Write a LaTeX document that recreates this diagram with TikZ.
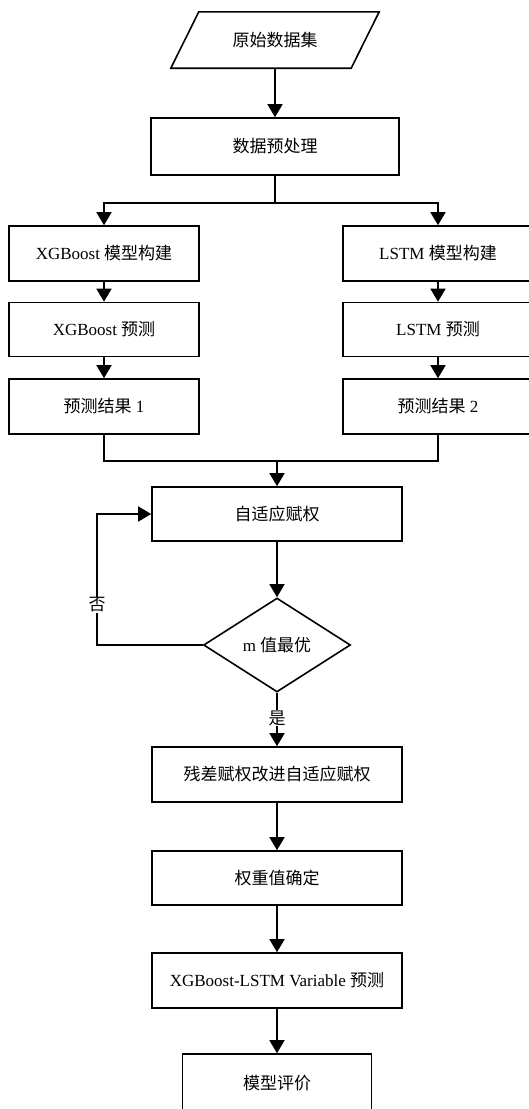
\documentclass[tikz,border=0pt]{standalone}
\usepackage{fontspec}
\setmainfont{Liberation Serif}
\newfontfamily\cjk{Noto Sans CJK SC}
\usetikzlibrary{shapes.geometric,arrows.meta,calc}
\tikzset{
  txt/.style={font=\fontsize{17}{20}\selectfont},
  box/.style={txt,draw,line width=1.6pt,rectangle,inner sep=0pt,minimum height=55pt},
  wbox/.style={box,minimum width=250pt},
  sbox/.style={box,minimum width=190pt},
  cond/.style={txt,draw,line width=1.6pt,diamond,inner sep=0pt,minimum width=147pt,minimum height=94pt},
  line/.style={line width=1.6pt},
  arr/.style={line,-{Triangle[width=15pt,length=13pt]}},
  lbl/.style={txt,fill=white,inner sep=1pt}
}
\begin{document}
\begin{tikzpicture}[x=1pt,y=-1pt]
\useasboundingbox (0,0) rectangle (529,1109);
% parallelogram input
\node[txt,inner sep=0pt,minimum width=208pt,minimum height=56pt] (raw) at (275,40) {\cjk 原始数据集};
\draw[line,line join=miter] ([xshift=28pt]raw.north west) -- (raw.north east) -- ([xshift=-28pt]raw.south east) -- (raw.south west) -- cycle;
\node[box,minimum width=248pt,minimum height=57pt] (pre) at (275,146.5) {\cjk 数据预处理};
% branches
\node[sbox] (xb1) at (104,253.5) {XGBoost {\cjk 模型构建}};
\node[sbox,minimum height=54pt] (xb2) at (104,329.5) {XGBoost {\cjk 预测}};
\node[sbox] (xb3) at (104,406.5) {{\cjk 预测结果} 1};
\node[sbox] (ls1) at (438,253.5) {LSTM {\cjk 模型构建}};
\node[sbox,minimum height=54pt] (ls2) at (438,329.5) {LSTM {\cjk 预测}};
\node[sbox] (ls3) at (438,406.5) {{\cjk 预测结果} 2};
% main chain
\node[wbox,minimum height=54pt] (ada) at (277,514) {\cjk 自适应赋权};
\node[cond] (dia) at (277,645) {m {\cjk 值最优}};
\node[wbox] (res) at (277,774.5) {\cjk 残差赋权改进自适应赋权};
\node[wbox,minimum height=54pt] (wgt) at (277,878) {\cjk 权重值确定};
\node[wbox] (prd) at (277,980.5) {XGBoost-LSTM Variable {\cjk 预测}};
\node[box,minimum width=189pt,minimum height=60pt] (ev) at (277,1084) {};
\node[txt] (evt) at (277,1083) {\cjk 模型评价};
% connectors
\coordinate (split) at (275,203);
\coordinate (merge) at (277,461);
\coordinate (loop) at (97,514);
\draw[arr] (raw.south) -- (pre.north);
\draw[line] (pre.south) -- (split);
\draw[arr] (split) -| (xb1.north);
\draw[arr] (split) -| (ls1.north);
\draw[arr] (xb1) -- (xb2);
\draw[arr] (xb2) -- (xb3);
\draw[arr] (ls1) -- (ls2);
\draw[arr] (ls2) -- (ls3);
\draw[line] (xb3.south) |- (merge);
\draw[line] (ls3.south) |- (merge);
\draw[arr] (merge) -- (ada.north);
\draw[arr] (ada.south) -- (dia.north);
\draw[arr] (dia.west) -| (loop) -- (ada.west);
\node[lbl] (no) at (97,605) {\cjk 否};
\draw[arr] (dia.south) -- (res.north);
\node[lbl] (yes) at (277,718) {\cjk 是};
\draw[arr] (res) -- (wgt);
\draw[arr] (wgt) -- (prd);
\draw[arr] (prd) -- (ev);
\end{tikzpicture}
\end{document}
